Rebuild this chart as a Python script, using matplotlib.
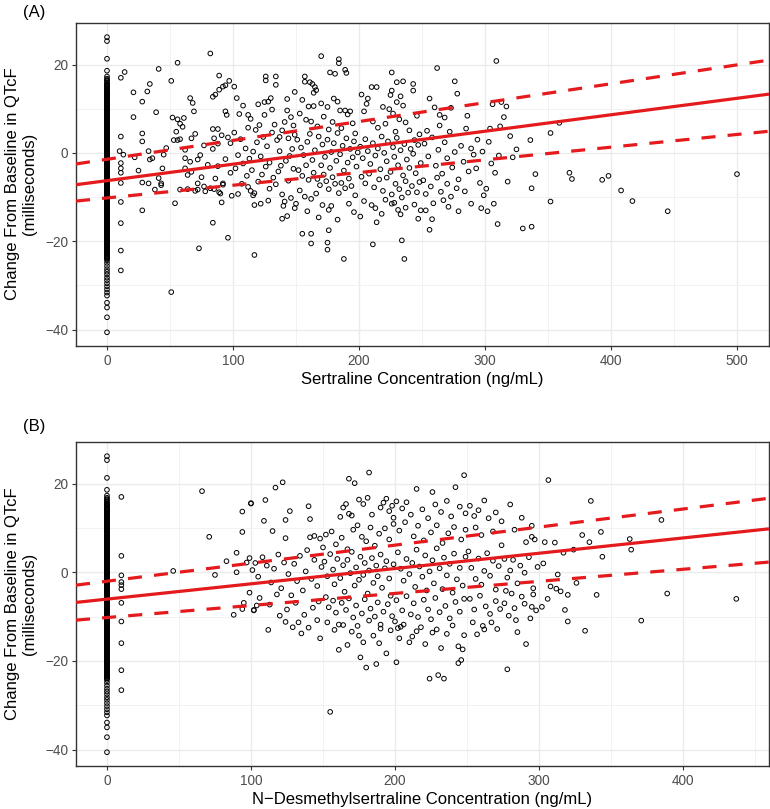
import matplotlib
matplotlib.use("Agg")
import matplotlib.pyplot as plt
from matplotlib.ticker import MultipleLocator

plt.rcParams["font.family"] = ["Liberation Sans", "DejaVu Sans"]

# change from baseline in QTcF (ms) for samples below quantification -> plotted at 0 ng/mL
zero_conc_dqtcf = [
    26.2, 25.3, 21.3, 18.6, 17.3, 16.5, 15.9, 15.4, 15.0,
    14.5, 14.2, 13.8, 13.6, 13.3, 12.9, 12.7, 12.4, 12.0, 11.8, 11.5, 11.1, 10.9,
    10.6, 10.2, 10.0, 9.7, 9.3, 9.1, 8.8, 8.4, 8.2, 7.9, 7.5, 7.3, 7.0, 6.6, 6.4,
    6.1, 5.7, 5.5, 5.2, 4.8, 4.6, 4.3, 3.9, 3.7, 3.4, 3.0, 2.8, 2.5, 2.1, 1.9,
    1.6, 1.2, 1.0, 0.7, 0.3, 0.1, -0.2, -0.6, -0.8, -1.1, -1.5, -1.7, -2.0, -2.4,
    -2.6, -2.9, -3.3, -3.5, -3.8, -4.2, -4.4, -4.7, -5.1, -5.3, -5.6, -6.0, -6.2,
    -6.5, -6.9, -7.1, -7.4, -7.8, -8.0, -8.3, -8.7, -8.9, -9.2, -9.6, -9.8, -10.1,
    -10.5, -10.7, -11.0, -11.4, -11.6, -11.9, -12.3, -12.5, -12.8, -13.2, -13.4,
    -13.7, -14.1, -14.3, -14.6, -15.0, -15.2, -15.5, -15.9, -16.1, -16.4, -16.8,
    -17.0, -17.3, -17.7, -17.9, -18.2, -18.6, -18.8, -19.1, -19.5, -19.7, -20.0,
    -20.4, -20.6, -20.9, -21.3, -21.5, -21.8, -22.2, -22.4, -22.7, -23.1, -23.3,
    -23.6, -24.0, -24.3, -24.9, -25.6, -26.3, -26.9, -27.5, -28.2, -28.8, -29.5,
    -30.2, -30.9, -31.6, -32.3, -33.9, -35.0, -37.2, -40.6,
    16.8, 16.2, 15.6, 15.2, 14.8, 14.35, 14.0, 13.45, 13.1, 12.55, 12.2, 11.65,
    11.3, 10.75, 10.4, 9.85, 9.5, 8.95, 8.6, 8.05, 7.7, 7.15, 6.8, 6.25, 5.9,
    5.35, 5.0, 4.45, 4.1, 3.55, 3.2, 2.65, 2.3, 1.75, 1.4, 0.85, 0.5, -0.05, -0.4,
    -0.95, -1.3, -1.85, -2.2, -2.75, -3.1, -3.65, -4.0, -4.55, -4.9, -5.45, -5.8,
    -6.35, -6.7, -7.25, -7.6, -8.15, -8.5, -9.05, -9.4, -9.95, -10.3, -10.85,
    -11.2, -11.75, -12.1, -12.65, -13.0, -13.55, -13.9, -14.45, -14.8, -15.35,
    -15.7, -16.25, -16.6, -17.15, -17.5, -18.05, -18.4, -18.95, -19.3, -19.85,
    -20.2, -20.75, -21.1, -21.65, -22.0, -22.55, -22.9, -23.45, -23.8,
]

# (A) sertraline concentration (ng/mL), change in QTcF (ms)
sert_points = [
    (11, 17.0), (14, 18.3), (21, 13.7), (21, 8.1), (28, 11.6), (32, 13.9), (34, 15.6), (41, 19.0),
    (39, 9.2), (28, 4.4), (28, 2.6), (11, 3.7), (10, 0.4), (13, -0.4), (11, -2.3), (11, -3.5),
    (11, -4.5), (11, -6.8), (28, -6.7), (33, -6.9), (38, -8.3), (33, 0.4), (34, -1.5), (41, -5.7),
    (43, -6.9), (44, -3.5), (47, 1.1), (45, -0.4), (11, -11.1), (11, -15.9), (11, -22.1), (11, -26.6),
    (28, -13.0), (43, -7.3), (36, -1.2), (22, -1.0), (25, -4.0),
    (51, 16.3), (56, 20.4), (52, 8.0), (56, 7.6), (58, 6.6), (60, 5.9), (61, 7.9), (55, 4.8),
    (56, 2.9), (53, 2.9), (58, 3.1), (66, 12.4), (68, 11.3), (69, 9.4), (70, 4.3), (67, 3.3),
    (62, 0.7), (62, -1.2), (72, -1.5), (74, -0.5), (77, 1.7), (62, -3.5), (67, -4.3), (64, -5.0),
    (72, -6.9), (58, -8.3), (64, -8.2), (72, -8.3), (78, -8.7), (82, -8.0), (85, -8.2), (92, -7.2),
    (82, 22.5), (84, 12.7), (86, 13.2), (89, 14.3), (92, 15.0), (94, 15.3), (97, 16.3), (89, 17.5),
    (94, 9.4), (95, 8.6), (84, 5.4), (88, 5.4), (91, 4.0), (85, 3.3), (84, 0.9), (88, 2.1),
    (96, 3.5), (98, 2.2), (51, -31.5), (54, -11.4), (73, -21.6), (84, -15.8), (96, -19.2), (91, -11.2),
    (99, -9.7), (70, -8.6), (77, -7.6), (89, -8.9), (90, -9.2), (92, -6.9), (80, -2.7), (88, -3.0),
    (94, -1.4), (66, -2.0), (98, -4.5), (75, -5.5), (86, -5.8),
    (101, 15.0), (103, 12.4), (108, 10.7), (112, 8.6), (114, 7.7), (112, 5.7), (118, 5.2), (121, 6.3),
    (126, 17.3), (134, 17.3), (126, 16.4), (134, 15.4), (130, 12.4), (128, 11.6), (125, 11.5), (143, 12.2),
    (149, 13.8), (120, 11.0), (106, 3.1), (110, 1.0), (104, -0.5), (108, -2.4), (113, -1.3), (116, 0.3),
    (119, 2.4), (122, -0.8), (124, 3.6), (127, 1.5), (129, -2.2), (131, 4.6), (133, 6.4), (135, 2.9),
    (137, 0.4), (139, 5.1), (141, 7.0), (142, -1.8), (144, 3.3), (146, 8.1), (147, 0.9), (148, -3.6),
    (136, -4.2), (132, -5.6), (126, -3.1), (120, -6.5), (123, -4.9), (111, -5.2), (107, -7.0), (129, -8.1),
    (134, -7.1), (139, -9.4), (144, -6.3), (146, -10.2), (141, -11.0), (128, -10.8), (122, -11.5), (104, -9.3),
    (112, -7.7), (114, -8.6), (116, -9.6), (117, -23.1), (117, -11.8), (117, -9.1), (139, -14.9), (143, -14.3),
    (140, -12.0), (149, -12.5), (150, -11.5), (137, 3.6), (143, 9.6), (148, 6.2), (105, 8.8), (101, 4.6),
    (102, -3.5), (115, -3.9), (125, 8.6), (131, 9.8), (138, -2.9), (145, -0.7), (149, 4.1),
    (170, 21.9), (184, 21.2), (184, 20.3), (189, 18.8), (181, 17.9), (177, 18.2), (190, 18.1), (157, 17.3),
    (157, 16.1), (163, 15.6), (165, 14.9), (166, 14.2), (164, 13.6), (161, 16.0), (170, 11.2), (164, 10.6),
    (160, 10.5), (175, 10.4), (180, 12.3), (183, 11.6), (185, 9.6), (189, 9.6), (191, 8.7), (193, 9.4),
    (195, 6.7), (155, 12.0), (153, 8.9), (158, 7.5), (162, 7.1), (167, 6.0), (172, 8.2), (176, 5.3),
    (179, 7.0), (186, 5.6), (197, 4.4),
    (151, 3.0), (154, 1.2), (156, -0.5), (159, 2.5), (161, 4.3), (163, -1.6), (165, 0.6), (168, 3.7),
    (170, -2.8), (171, 1.9), (173, -0.9), (175, 3.0), (177, -3.4), (178, 0.2), (180, 2.2), (182, -1.8),
    (183, 4.5), (185, -0.3), (187, 1.6), (188, -4.0), (190, 3.3), (191, -2.2), (193, 0.9), (195, -1.0),
    (196, 2.6), (198, -3.1), (199, 0.1), (152, -3.9), (155, -5.2), (158, -2.8), (160, -6.1), (164, -4.5),
    (167, -5.9), (169, -7.3), (172, -4.9), (174, -6.4), (176, -8.2), (179, -5.5), (181, -7.0), (184, -9.1),
    (186, -6.8), (189, -8.0), (192, -5.8), (194, -7.5), (197, -9.6), (153, -8.5), (157, -9.9), (162, -10.4),
    (166, -9.2), (171, -11.8), (176, -12.9), (178, -12.0), (192, -11.5), (155, -18.3), (162, -18.3), (162, -20.5),
    (176, -17.5), (175, -20.3), (175, -21.9), (188, -24.0), (168, -14.6), (183, -15.1), (196, -13.4), (159, -13.2),
    (207, 12.3), (206, 11.1), (210, 14.9), (214, 14.9), (226, 18.2), (230, 16.0), (235, 16.2), (243, 15.6),
    (243, 14.1), (226, 14.1), (225, 13.1), (233, 12.8), (219, 10.4), (224, 9.9), (235, 10.7), (230, 11.5),
    (227, 8.9), (237, 6.9), (202, 13.2), (204, 9.4), (211, 7.1), (215, 5.7), (221, 6.6), (229, 4.8),
    (232, 7.6), (240, 5.1), (246, 8.4), (248, 4.2), (244, 2.9),
    (201, 1.4), (203, -1.2), (205, 3.1), (207, 0.4), (209, -2.5), (211, 2.2), (213, -0.6), (215, 1.0),
    (217, -3.7), (218, 3.7), (220, 0.0), (222, -1.9), (223, 2.6), (225, -4.3), (227, 1.3), (228, -0.9),
    (230, 3.4), (231, -2.8), (233, 0.6), (235, -5.1), (236, 2.0), (238, -1.5), (240, -3.4), (241, 0.9),
    (243, -0.2), (245, -4.6), (247, 1.8), (249, -2.3), (202, -5.4), (205, -6.9), (208, -4.7), (212, -7.8),
    (216, -6.0), (219, -8.6), (222, -5.6), (226, -9.4), (229, -7.0), (232, -8.2), (234, -10.1), (237, -6.4),
    (239, -9.0), (242, -7.5), (246, -8.9), (248, -6.6), (201, -14.4), (210, -11.8), (213, -12.5), (214, -15.7),
    (218, -13.8), (226, -11.5), (228, -11.3), (231, -12.9), (233, -13.9), (237, -12.4), (247, -14.9), (244, -11.7),
    (249, -13.0), (211, -20.7), (234, -19.8), (236, -24.0), (204, -10.9), (221, -10.6),
    (256, 12.3), (262, 19.2), (276, 16.2), (278, 13.4), (264, 8.6), (268, 8.0), (264, 6.2), (260, 10.3),
    (254, 5.0), (252, 2.1), (255, -0.8), (258, 3.5), (261, -2.9), (263, 0.7), (266, -4.7), (268, 2.4),
    (270, -1.2), (272, 4.8), (274, -3.3), (276, 0.2), (279, -6.0), (281, 1.6), (283, -2.0), (285, 5.5),
    (287, -4.2), (289, 1.0), (291, -0.4), (294, 3.0), (296, -6.8), (298, 0.3), (251, -6.2), (253, -9.3),
    (257, -7.6), (259, -11.4), (262, -5.6), (265, -8.8), (267, -10.7), (270, -7.0), (273, -9.9), (277.5, -8.0),
    (284, -8.7), (279, -13.2), (289, -11.5), (297, -12.5), (256, -17.4), (253, -13.0), (271, -12.2), (299, -9.6),
    (293, -3.5), (286, 8.4), (273, 10.2), (258, -15.0),
    (301, -8.1), (307, -11.5), (309, 20.8), (310, -16.1), (313, 11.5), (317, 10.5), (315, 8.1), (306, 11.0),
    (312, 6.0), (303, 2.5), (305, -2.4), (308, -4.5), (311, -0.6), (318, -6.5), (322, -1.0), (325, 0.8),
    (336, 2.9), (340, -4.8), (337, -8.0), (330, -17.1), (337, -16.7), (304, 5.5), (320, 3.8), (302, -13.2),
    (352, 4.5), (359, 6.8), (367, -4.5), (369, -5.9), (393, -6.1), (398, -5.2), (408, -8.5), (417, -10.9),
    (445, -13.2), (500, -4.8), (352, -11.0),
]

# (B) N-desmethylsertraline concentration (ng/mL), change in QTcF (ms)
desm_points = [
    (10, 17.0), (10, 3.7), (10, -0.7), (10, -2.2), (10, -2.9), (10, -3.8), (10, -6.9), (10, -11.1),
    (10, -16.0), (10, -22.1), (10, -26.6),
    (46, 0.3), (66, 18.3), (71, 8.0), (75, -0.6), (83, 2.5), (90, 4.4), (90, 0.0), (94, 13.7),
    (94, 9.1), (100, 15.6), (97, 2.2), (99, 3.2), (101, 0.5), (95, -6.9), (102, -8.6), (104, -7.5),
    (94, -8.3), (99, -4.6), (88, -9.6),
    (102, -8.5), (112, -13.0), (124, -11.2), (133, -11.3), (140, -12.5), (148, -14.9), (100, 15.5), (110, 16.3),
    (117, 19.1), (122, 20.3), (140, 14.9), (141, 12.0), (127, 13.8), (124, 11.8), (109, 11.6), (115, 9.3),
    (124, 7.7), (141, 7.9), (144, 8.2), (148, 7.6), (150, 5.6), (103, 2.1), (105, -1.0), (108, 3.4),
    (111, 1.5), (114, -2.3), (116, 0.8), (119, 4.0), (121, -3.6), (123, 2.2), (126, -0.4), (128, -5.2),
    (130, 1.9), (132, -2.0), (134, 3.7), (136, -4.1), (138, 0.2), (139, 5.0), (142, -1.5), (144, 2.8),
    (146, -3.1), (147, -6.6), (149, 1.2), (106, -5.8), (113, -7.3), (118, -5.0), (125, -8.4), (131, -6.9),
    (137, -9.6), (143, -8.0), (146, -10.8), (129, -12.4), (120, -9.8), (135, -13.8),
    (155, -31.5), (158, -13.0), (161, -11.8), (164, -11.9), (161, -17.5), (174, -12.1), (175, -14.3), (178, -15.8),
    (176, -19.2), (180, -21.5), (185, -14.3), (187, -20.7), (190, -11.8), (190, -12.7), (194, -18.3), (168, 21.1),
    (172, 20.1), (182, 22.5), (162, 12.5), (164, 14.6), (166, 15.4), (168, 13.2), (170, 12.8), (175, 16.4),
    (178, 15.4), (181, 16.8), (184, 13.0), (190, 14.6), (192, 15.7), (194, 16.6), (196, 13.8), (198, 15.0),
    (199, 12.3), (152, 8.5), (156, 9.2), (159, 6.3), (163, 7.8), (167, 5.2), (171, 9.6), (174, 10.6),
    (177, 8.0), (180, 7.0), (183, 10.1), (186, 6.0), (189, 8.7), (193, 9.9), (196, 7.4), (199, 10.9),
    (151, 2.4), (153, -0.9), (155, 4.1), (157, 0.6), (158, -2.7), (160, 3.0), (162, -1.3), (164, 1.6),
    (165, -4.4), (167, 2.8), (169, -0.2), (170, 4.6), (172, -3.0), (173, 1.1), (175, -1.7), (176, 3.5),
    (178, -0.6), (179, 2.1), (181, -4.8), (182, 0.4), (184, 3.2), (185, -2.4), (187, 1.5), (188, -0.9),
    (190, 4.0), (191, -3.5), (193, 0.9), (194, 2.5), (196, -1.4), (197, -5.3), (199, 1.8), (152, -5.6),
    (154, -7.9), (157, -6.4), (159, -9.1), (163, -6.9), (166, -8.5), (168, -5.9), (171, -10.2), (173, -7.5),
    (177, -9.3), (179, -6.1), (183, -8.2), (186, -10.0), (188, -6.8), (192, -8.9), (195, -7.2), (198, -9.9),
    (153, -11.3), (170, -13.4), (182, -10.9), (197, -13.1), (167, -16.4), (189, -16.0),
    (201, -20.3), (200, -11.1), (202, -12.6), (203, -14.9), (204, -12.3), (210, -15.8), (212, -14.5), (218, -12.4),
    (224, -24.0), (230, -23.2), (234, -24.0), (226, -13.6), (229, -12.9), (232, -17.1), (240, -12.0), (244, -16.7),
    (247, -17.4), (244, -20.5), (246, -19.8), (248, -14.2), (248, 21.9), (215, 18.8), (226, 18.1), (242, 19.2),
    (201, 16.0), (205, 14.4), (208, 15.8), (211, 13.0), (219, 14.2), (223, 12.2), (228, 15.3), (232, 13.6),
    (236, 16.1), (239, 12.6), (245, 14.8), (249, 13.3), (203, 9.4), (207, 11.3), (213, 8.1), (216, 10.5),
    (220, 7.2), (225, 9.0), (229, 10.6), (233, 6.6), (237, 8.8), (241, 10.2), (246, 7.4), (249, 9.6),
    (202, 4.5), (204, 0.8), (206, -1.9), (208, 3.0), (210, -0.4), (212, 2.1), (214, -3.3), (215, 5.1),
    (217, 1.3), (219, -1.0), (221, 3.8), (222, -4.1), (224, 0.2), (226, 2.7), (227, -2.5), (229, 5.4),
    (231, 0.9), (233, -3.8), (234, 3.3), (236, -0.7), (238, 1.9), (240, -4.6), (241, 4.2), (243, -1.6),
    (245, 1.0), (247, -3.0), (249, 3.5), (201, -6.3), (205, -8.6), (208, -5.4), (211, -9.5), (213, -7.0),
    (216, -10.1), (220, -6.2), (223, -8.4), (225, -10.6), (228, -5.8), (231, -9.0), (235, -7.6), (238, -10.4),
    (242, -6.7), (245, -8.9), (248, -6.0), (206, -11.8), (215, -13.3), (236, -13.9), (221, -16.2),
    (254, -11.3), (261, -12.1), (262, -12.9), (267, -11.3), (278, -21.9), (279, -9.8), (291, -16.2), (294, -10.4),
    (284, -10.8), (295, -7.8), (288, 12.3), (274, 11.5), (295, 10.5), (295, 8.0), (297, 7.4), (291, 6.8),
    (274, 6.1), (262, 16.2), (258, 14.0), (255, 12.7), (252, 15.0), (265, 12.2), (270, 13.5), (280, 15.3),
    (268, 9.2), (260, 8.4), (256, 10.1), (283, 9.6), (251, 4.7), (253, 1.0), (256, -1.5), (258, 3.1),
    (260, -2.8), (262, 0.3), (264, 4.3), (266, -0.8), (268, 2.6), (270, -3.9), (272, 1.4), (276, 3.0),
    (278, -1.2), (280, 0.4), (282, 2.8), (285, -2.5), (287, 1.5), (290, -0.1), (293, 3.4), (296, -3.6),
    (299, 1.2), (277, -4.2), (281, -4.8), (288, -5.5), (296, -5.0), (252, -6.0), (255, -8.4), (259, -5.3),
    (263, -7.7), (266, -9.4), (270, -6.5), (273, -8.3), (276, -7.0), (283, -8.1), (290, -7.1), (298, -8.6),
    (257, -14.0), (271, -12.8), (285, -13.5),
    (306.5, 20.8), (336, 16.1), (385, 11.8), (363, 7.5), (364, 5.1), (330, 8.4), (335, 6.8), (343, 9.1),
    (344, 3.5), (324, 5.1), (317, 4.4), (304, 6.8), (311, 6.7), (303, 2.0), (308, -3.2), (312, -3.7),
    (315, -4.3), (320, -5.1), (340, -5.1), (389, -4.8), (437, -6.0), (302, -7.8), (318, -8.5), (320, -11.1),
    (332, -13.2), (371, -10.9), (306, -6.0), (313, -0.5), (326, -2.4),
]

# regression line and interval, y value at the left and right panel edge
sert_xlim = [-24.6, 525.4]
sert_fit = [-7.2, 13.3]
sert_upper = [-2.5, 21.0]
sert_lower = [-10.9, 4.9]

desm_xlim = [-21.5, 459.7]
desm_fit = [-6.8, 9.8]
desm_upper = [-2.9, 16.7]
desm_lower = [-10.8, 2.3]

ylim = [-43.7, 29.4]
RED = "#E41A1C"


def draw_panel(ax, points, xlim, fit, upper, lower, xlabel):
    xs = [0] * len(zero_conc_dqtcf) + [p[0] for p in points]
    ys = list(zero_conc_dqtcf) + [p[1] for p in points]
    ax.scatter(xs, ys, s=11, facecolors="none", edgecolors="black", linewidths=0.7, zorder=2)

    ax.plot(xlim, fit, color=RED, lw=2.3, zorder=3, solid_capstyle="butt")
    for band in (upper, lower):
        ax.plot(xlim, band, color=RED, lw=2.3, ls=(0, (4.4, 3.8)), zorder=3)

    ax.set_xlim(xlim)
    ax.set_ylim(ylim)
    ax.xaxis.set_major_locator(MultipleLocator(100))
    ax.xaxis.set_minor_locator(MultipleLocator(50))
    ax.yaxis.set_major_locator(MultipleLocator(20))
    ax.yaxis.set_minor_locator(MultipleLocator(10))
    ax.grid(which="major", color="#EBEBEB", lw=1.0, zorder=0)
    ax.grid(which="minor", color="#F2F2F2", lw=0.7, zorder=0)
    ax.set_axisbelow(True)
    ax.tick_params(which="major", length=3, width=0.8, color="#333333",
                   labelsize=9.8, labelcolor="#4D4D4D", pad=2.5)
    ax.tick_params(which="minor", length=0)
    for sp in ax.spines.values():
        sp.set_color("#333333")
        sp.set_linewidth(1.0)
    ax.set_xlabel(xlabel, fontsize=12, labelpad=3)


fig = plt.figure(figsize=(7.7, 8.09), dpi=100)
axA = fig.add_axes([0.0987, 0.5723, 0.9, 0.3993])
axB = fig.add_axes([0.0987, 0.0532, 0.9, 0.4005])

draw_panel(axA, sert_points, sert_xlim, sert_fit, sert_upper, sert_lower,
           "Sertraline Concentration (ng/mL)")
draw_panel(axB, desm_points, desm_xlim, desm_fit, desm_upper, desm_lower,
           "N\u2212Desmethylsertraline Concentration (ng/mL)")

fig.text(23 / 770, 1 - 13 / 809, "(A)", fontsize=12, ha="left", va="center")
fig.text(23 / 770, 1 - 427 / 809, "(B)", fontsize=12, ha="left", va="center")
for yc in (1 - 184 / 809, 1 - 604 / 809):
    fig.text(21 / 770, yc, "Change From Baseline in QTcF\n(milliseconds)", fontsize=12,
             rotation=90, ha="center", va="center", multialignment="center")

fig.savefig("out.png", dpi=100)
